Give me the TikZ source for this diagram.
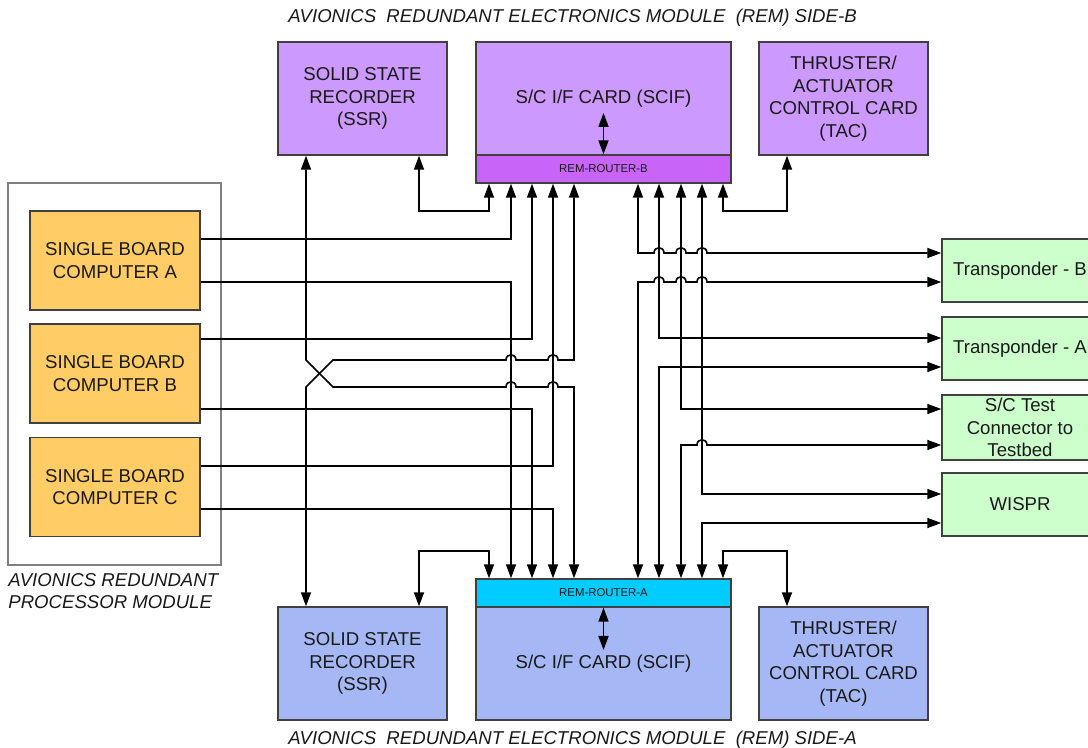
\documentclass[tikz,border=0pt]{standalone}
\usepackage{fontspec}
\setmainfont{Liberation Sans}
\usetikzlibrary{arrows.meta}

\definecolor{remBfill}{HTML}{CC99FF}
\definecolor{rtrBfill}{HTML}{C864F8}
\definecolor{remAfill}{HTML}{A5B8F5}
\definecolor{rtrAfill}{HTML}{00CCFF}
\definecolor{sbcfill}{HTML}{FFCC66}
\definecolor{unitfill}{HTML}{CCFFCC}
\definecolor{cardline}{HTML}{404040}
\definecolor{apmline}{HTML}{7F7F7F}

\tikzset{
  card/.style={draw=cardline, line width=0.7pt, align=center, inner sep=0pt,
    text=black!90, font=\fontsize{9.3}{11.3}\selectfont},
  cardB/.style={card, fill=remBfill, minimum width=84.5pt, minimum height=56.5pt},
  cardA/.style={card, fill=remAfill, minimum width=84.5pt, minimum height=56.5pt},
  rtr/.style={card, minimum width=127.5pt, minimum height=14pt,
    font=\fontsize{5.7}{6.5}\selectfont},
  sbc/.style={card, fill=sbcfill, minimum width=85pt, minimum height=49.5pt},
  unit/.style={card, fill=unitfill, minimum width=78pt, minimum height=31.5pt},
  modtitle/.style={inner sep=0pt, text=black!90, align=left,
    font=\fontsize{9.3}{11.3}\selectfont\itshape},
  tip/.tip={Triangle[length=7pt, width=5pt]},
  link/.style={line width=0.8pt, -tip},
  biarrow/.style={line width=0.8pt, tip-tip}
}

\begin{document}
\begin{tikzpicture}[x=0.5pt, y=-0.5pt]
  \useasboundingbox (0,0) rectangle (1088,748);
  \clip (0,0) rectangle (1088,748);

  % Titles
  \node[modtitle] (titleB) at (572.5,18) {AVIONICS~~REDUNDANT ELECTRONICS MODULE~~(REM) SIDE-B};
  \node[modtitle] (titleA) at (572.5,740) {AVIONICS~~REDUNDANT ELECTRONICS MODULE~~(REM) SIDE-A};

  % REM side B
  \node[cardB] (ssrB) at (362.5,98.5) {SOLID STATE\\RECORDER\\(SSR)};
  \node[cardB, minimum width=127.5pt] (scifB) at (603.5,98.5) {S/C I/F CARD (SCIF)};
  \node[rtr, fill=rtrBfill] (routerB) at (603.5,169) {REM-ROUTER-B};
  \node[cardB] (tacB) at (843.5,98.5) {THRUSTER/\\ACTUATOR\\CONTROL CARD\\(TAC)};

  % REM side A
  \node[rtr, fill=rtrAfill] (routerA) at (603.5,593) {REM-ROUTER-A};
  \node[cardA, minimum width=127.5pt] (scifA) at (603.5,663.5) {S/C I/F CARD (SCIF)};
  \node[cardA] (ssrA) at (362.5,663.5) {SOLID STATE\\RECORDER\\(SSR)};
  \node[cardA] (tacA) at (843.5,663.5) {THRUSTER/\\ACTUATOR\\CONTROL CARD\\(TAC)};

  % Processor module
  \node[draw=apmline, line width=0.6pt, fill=white, minimum width=106.5pt, minimum height=191pt] (apm) at (114.5,374) {};
  \node[sbc] (sbcA) at (115,260.5) {SINGLE BOARD\\COMPUTER A};
  \node[sbc] (sbcB) at (115,373.5) {SINGLE BOARD\\COMPUTER B};
  \node[sbc] (sbcC) at (115,487) {SINGLE BOARD\\COMPUTER C};
  \node[modtitle, anchor=north west] (apmlabel) at (8,573) {AVIONICS REDUNDANT\\PROCESSOR MODULE};

  % Spacecraft units
  \node[unit] (transB) at (1020,270.5) {Transponder - B};
  \node[unit] (transA) at (1020,348.5) {Transponder - A};
  \node[unit, minimum height=32.5pt] (sctest) at (1020,427.5) {S/C Test\\Connector to\\Testbed};
  \node[unit] (wispr) at (1020,504.5) {WISPR};

  % Router ports
  \foreach \n/\x in {1/489,2/511,3/532,4/553,5/574,6/638,7/659,8/681,9/702,10/723} {
    \coordinate (pB\n) at (routerB.south -| \x,0);
    \coordinate (pA\n) at (routerA.north -| \x,0);
  }
  \coordinate (scifBmid) at (603.5,113);
  \coordinate (scifAmid) at (603.5,650);

  % SCIF to router
  \draw[biarrow] (scifBmid) -- (routerB.north);
  \draw[biarrow] (scifAmid) -- (routerA.south);

  % SSR and TAC loops
  \draw[biarrow] (ssrB.south -| 419,0) |- (489,211) -- (pB1);
  \draw[biarrow] (tacB.south -| 787,0) |- (723,211) -- (pB10);
  \draw[biarrow] (ssrA.north -| 419,0) |- (489,551) -- (pA1);
  \draw[biarrow] (tacA.north -| 787,0) |- (723,551) -- (pA10);

  % Single board computers
  \draw[link] (sbcA.east |- 0,239) -| (pB2);
  \draw[link] (sbcA.east |- 0,282) -| (pA2);
  \draw[link] (sbcB.east |- 0,339) -| (pB3);
  \draw[link] (sbcB.east |- 0,409) -| (pA3);
  \draw[link] (sbcC.east |- 0,466) -| (pB4);
  \draw[link] (sbcC.east |- 0,509) -| (pA4);

  % SSR cross-strap
  \draw[biarrow] (ssrB.south -| 306,0) -- (306,360) -- (333,387)
    foreach \x in {511,553} { -- (\x-5,387) .. controls (\x-5,380) and (\x+5,380) .. (\x+5,387) }
    -| (pA5);
  \draw[biarrow] (pB5) -- (574,360)
    foreach \x in {553,511} { -- (\x+5,360) .. controls (\x+5,353) and (\x-5,353) .. (\x-5,360) }
    -- (333,360) -- (306,387) -- (ssrA.north -| 306,0);

  % Router to spacecraft units
  \draw[biarrow] (pB6) -- (638,253)
    foreach \x in {659,681,702} { -- (\x-5,253) .. controls (\x-5,246) and (\x+5,246) .. (\x+5,253) }
    -- (transB.west |- 0,253);
  \draw[biarrow] (pA6) -- (638,282)
    foreach \x in {659,681,702} { -- (\x-5,282) .. controls (\x-5,275) and (\x+5,275) .. (\x+5,282) }
    -- (transB.west |- 0,282);
  \draw[biarrow] (pB7) |- (transA.west |- 0,338);
  \draw[biarrow] (pA7) |- (transA.west |- 0,367);
  \draw[biarrow] (pB8) |- (sctest.west |- 0,409);
  \draw[biarrow] (pA8) -- (681,445) -- (697,445) .. controls (697,438) and (707,438) .. (707,445)
    -- (sctest.west |- 0,445);
  \draw[biarrow] (pB9) |- (wispr.west |- 0,494);
  \draw[biarrow] (pA9) |- (wispr.west |- 0,523);
\end{tikzpicture}
\end{document}
